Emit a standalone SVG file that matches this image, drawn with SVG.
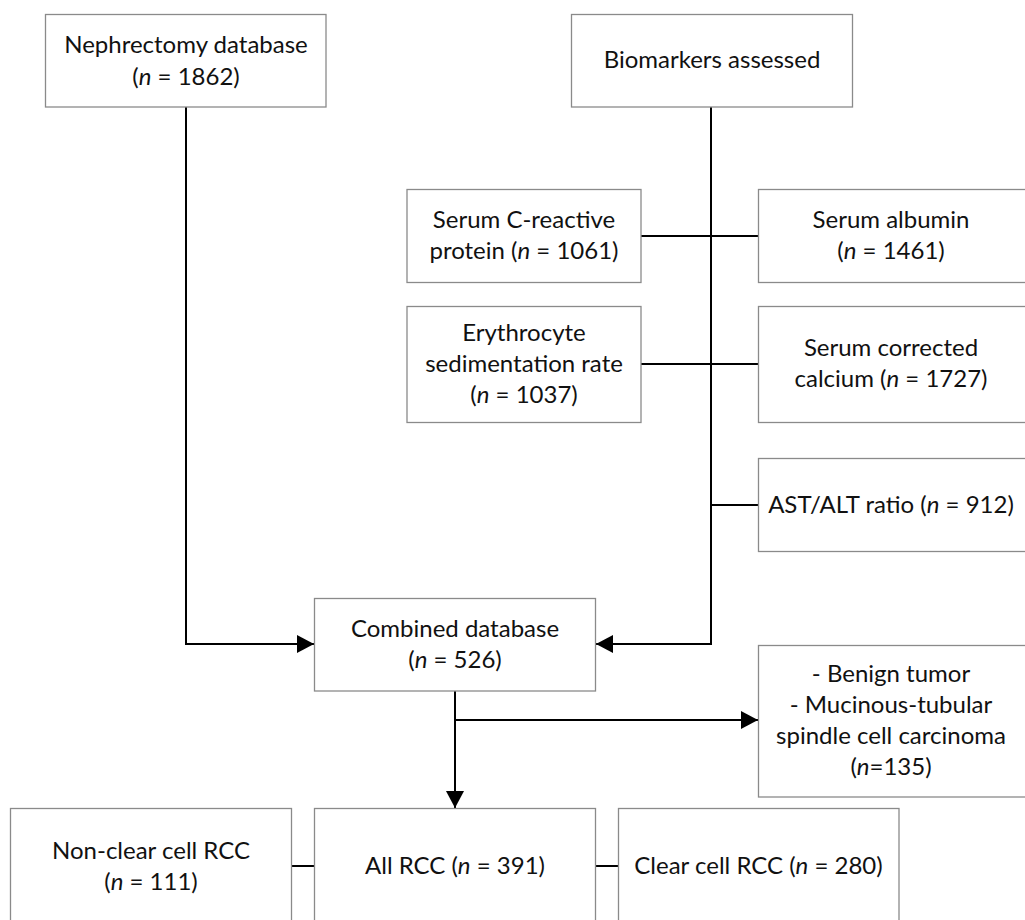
<svg xmlns="http://www.w3.org/2000/svg" width="1025" height="920" viewBox="0 0 1025 920">
<defs>
<style>
.box{fill:#fff;stroke:#8a8a8a;stroke-width:1.3}
.t{font-family:Lato,"Open Sans","Liberation Sans",sans-serif;font-size:24px;fill:#111;text-anchor:middle}
.i{font-style:italic}
.c{fill:none;stroke:#000;stroke-width:2}
</style>
<marker id="ah" markerWidth="17" markerHeight="18" refX="17" refY="9" orient="auto" markerUnits="userSpaceOnUse">
<path d="M0,0 L17,9 L0,18 Z" fill="#000"/>
</marker>
</defs>
<rect width="1025" height="920" fill="#fff"/>
<g id="connectors">
<path class="c" d="M186,107 V644 H314" marker-end="url(#ah)"/>
<path class="c" d="M711,107 V644 H596" marker-end="url(#ah)"/>
<path class="c" d="M641,236 H758"/>
<path class="c" d="M641,364 H758"/>
<path class="c" d="M711,505 H758"/>
<path class="c" d="M455,691 V808" marker-end="url(#ah)"/>
<path class="c" d="M455,720 H758" marker-end="url(#ah)"/>
<path class="c" d="M291,866 H315"/>
<path class="c" d="M595,866 H619"/>
</g>
<g id="nephrectomy">
<rect class="box" x="45.5" y="14.5" width="280.5" height="92.5"/>
<text class="t" x="186" y="53">Nephrectomy database</text>
<text class="t" x="186" y="85">(<tspan class="i">n</tspan> = 1862)</text>
</g>
<g id="biomarkers">
<rect class="box" x="571.5" y="14.5" width="281" height="92.5"/>
<text class="t" x="712" y="68">Biomarkers assessed</text>
</g>
<g id="crp">
<rect class="box" x="407" y="189.5" width="234" height="93"/>
<text class="t" x="524" y="228">Serum C-reactive</text>
<text class="t" x="524" y="259">protein (<tspan class="i">n</tspan> = 1061)</text>
</g>
<g id="albumin">
<rect class="box" x="758.5" y="189.5" width="270" height="93"/>
<text class="t" x="891" y="228">Serum albumin</text>
<text class="t" x="891" y="259">(<tspan class="i">n</tspan> = 1461)</text>
</g>
<g id="esr">
<rect class="box" x="407" y="306.5" width="234" height="116"/>
<text class="t" x="524" y="341">Erythrocyte</text>
<text class="t" x="524" y="372">sedimentation rate</text>
<text class="t" x="524" y="403">(<tspan class="i">n</tspan> = 1037)</text>
</g>
<g id="calcium">
<rect class="box" x="758.5" y="306.5" width="270" height="116"/>
<text class="t" x="891" y="356">Serum corrected</text>
<text class="t" x="891" y="387">calcium (<tspan class="i">n</tspan> = 1727)</text>
</g>
<g id="astalt">
<rect class="box" x="758.5" y="458.5" width="270" height="93"/>
<text class="t" x="891" y="513">AST/ALT ratio (<tspan class="i">n</tspan> = 912)</text>
</g>
<g id="combined">
<rect class="box" x="314.5" y="598.5" width="281" height="92.5"/>
<text class="t" x="455" y="637">Combined database</text>
<text class="t" x="455" y="668">(<tspan class="i">n</tspan> = 526)</text>
</g>
<g id="excluded">
<rect class="box" x="758.5" y="645.5" width="270" height="151.5"/>
<text class="t" x="891" y="682">- Benign tumor</text>
<text class="t" x="891" y="713">- Mucinous-tubular</text>
<text class="t" x="891" y="744">spindle cell carcinoma</text>
<text class="t" x="891" y="775">(<tspan class="i">n</tspan>=135)</text>
</g>
<g id="nonclear">
<rect class="box" x="10.5" y="808.5" width="281" height="120"/>
<text class="t" x="151" y="859">Non-clear cell RCC</text>
<text class="t" x="151" y="890">(<tspan class="i">n</tspan> = 111)</text>
</g>
<g id="allrcc">
<rect class="box" x="314.5" y="808.5" width="281" height="120"/>
<text class="t" x="455" y="874">All RCC (<tspan class="i">n</tspan> = 391)</text>
</g>
<g id="clearcell">
<rect class="box" x="618.5" y="808.5" width="280.5" height="120"/>
<text class="t" x="758.5" y="874">Clear cell RCC (<tspan class="i">n</tspan> = 280)</text>
</g>
</svg>
